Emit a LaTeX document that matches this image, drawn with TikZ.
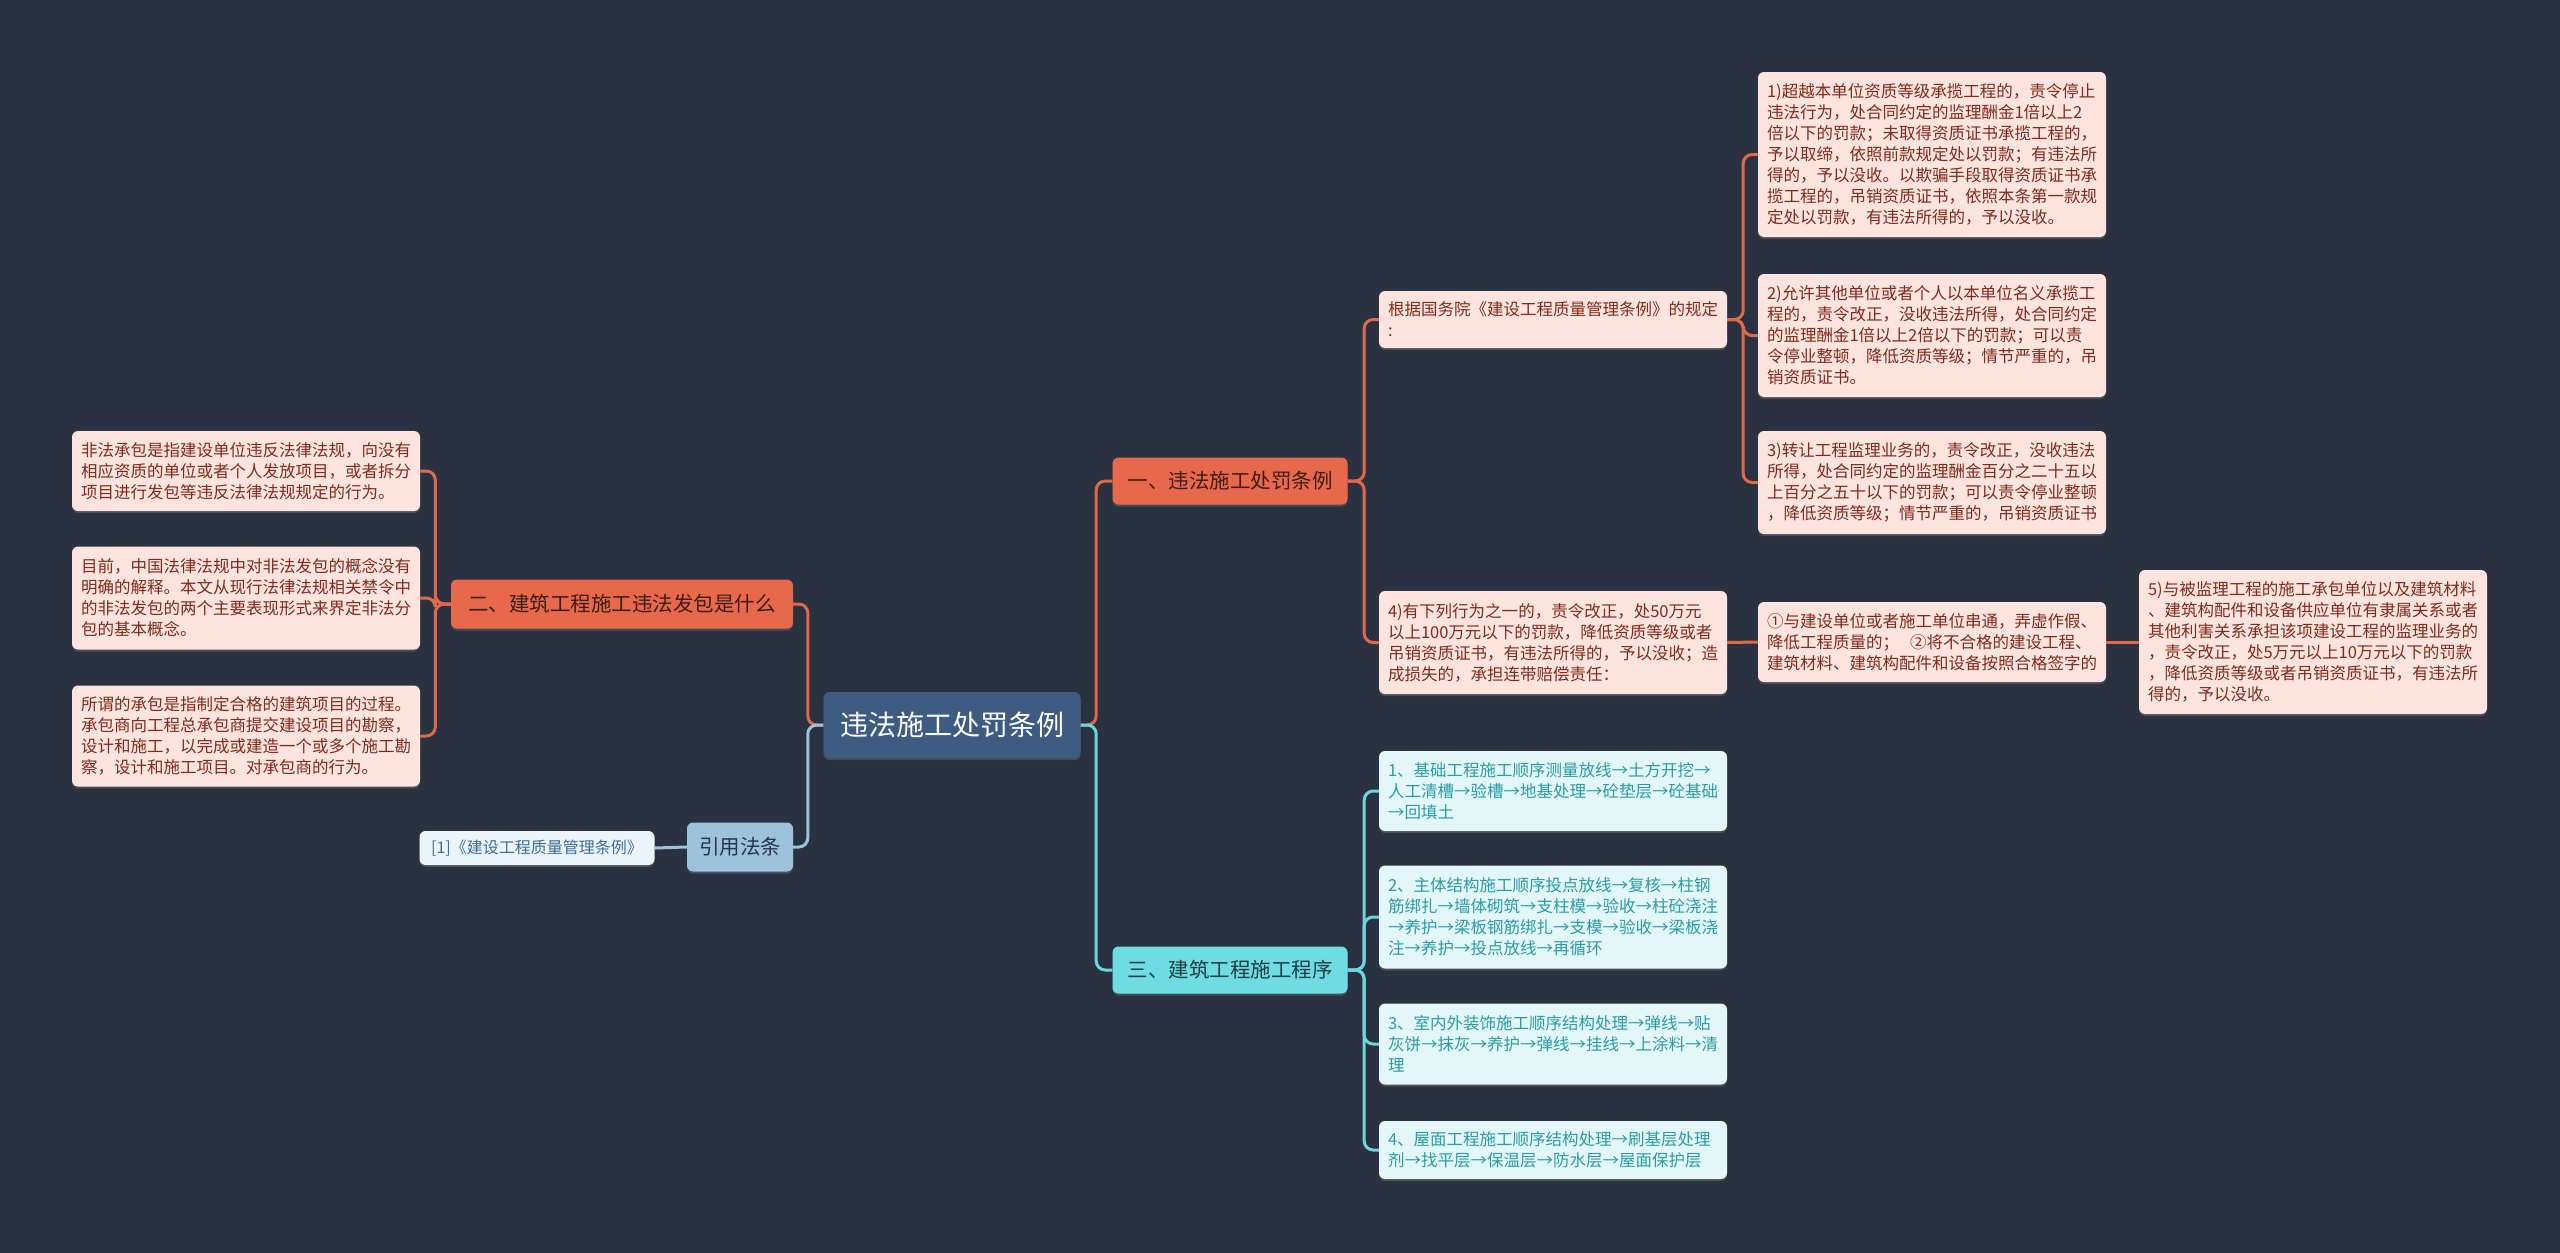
\documentclass[tikz,border=0pt]{standalone}
\usepackage{fontspec}
\setmainfont{Noto Sans CJK SC}
\usetikzlibrary{shadows}
\definecolor{bg}{HTML}{2A3140}
\definecolor{rootfill}{HTML}{3E5B82}
\definecolor{orgfill}{HTML}{E8684B}
\definecolor{orgtext}{HTML}{3A1E16}
\definecolor{orgline}{HTML}{E0694B}
\definecolor{leafofill}{HTML}{FDE4DE}
\definecolor{leafotext}{HTML}{7E2C1C}
\definecolor{cyanfill}{HTML}{6EDCE2}
\definecolor{cyantext}{HTML}{1D3E45}
\definecolor{cyanline}{HTML}{6CD6DE}
\definecolor{leafcfill}{HTML}{E4F7F8}
\definecolor{leafctext}{HTML}{2A9CA3}
\definecolor{bluefill}{HTML}{9DC2DB}
\definecolor{bluetext}{HTML}{25364A}
\definecolor{blueline}{HTML}{9DC2DB}
\definecolor{leafbfill}{HTML}{EBF4F9}
\definecolor{leafbtext}{HTML}{3E6E96}
\begin{document}
\begin{tikzpicture}[x=1pt,y=-1pt,
  box/.style={rounded corners=6pt, inner ysep=0pt, anchor=center,
    drop shadow={opacity=0.35, shadow xshift=0pt, shadow yshift=-2pt}},
  leafo/.style={box, fill=leafofill, text=leafotext, inner xsep=9pt, align=left,
    text width=330pt, font=\fontsize{16.5}{21}\selectfont},
  leafc/.style={box, fill=leafcfill, text=leafctext, inner xsep=9pt, align=left,
    text width=330pt, font=\fontsize{16.5}{21}\selectfont},
  leafb/.style={box, fill=leafbfill, text=leafbtext, inner xsep=0pt, align=center,
    font=\fontsize{16}{20}\selectfont},
  rootbox/.style={box, fill=rootfill, text=white, inner xsep=0pt,
    font=\fontsize{28}{32}\selectfont},
  branchO/.style={box, fill=orgfill, text=orgtext, inner xsep=0pt,
    font=\fontsize{20.5}{24}\selectfont},
  branchC/.style={box, fill=cyanfill, text=cyantext, inner xsep=0pt,
    font=\fontsize{20.5}{24}\selectfont},
  branchB/.style={box, fill=bluefill, text=bluetext, inner xsep=0pt,
    font=\fontsize{20.5}{24}\selectfont},
  conn/.style={line width=3pt, rounded corners=9pt},
  lineO/.style={conn, draw=orgline},
  lineC/.style={conn, draw=cyanline},
  lineB/.style={conn, draw=blueline}
]
\fill[bg] (0,0) rectangle (2560,1253);
\useasboundingbox (0,0) rectangle (2560,1253);

% root and branches
\node[rootbox, minimum width=257pt, minimum height=66pt] (root) at (952,725) {违法施工处罚条例};
\node[branchO, minimum width=235pt, minimum height=47pt] (b1) at (1230,481) {一、违法施工处罚条例};
\node[branchC, minimum width=235pt, minimum height=47pt] (b3) at (1230,970) {三、建筑工程施工程序};
\node[branchO, minimum width=342pt, minimum height=49pt] (b2) at (622,604) {二、建筑工程施工违法发包是什么};
\node[branchB, minimum width=106pt, minimum height=49pt] (b4) at (740,847) {引用法条};
\node[leafb, minimum width=235pt, minimum height=34pt] (r1) at (537,848) {[1]《建设工程质量管理条例》};

% branch 1 children
\node[leafo, minimum height=57pt] (g) at (1553,319.5) {根据国务院《建设工程质量管理条例》的规定\\:};
\node[leafo, minimum height=103pt] (p4) at (1553,642.5) {4)有下列行为之一的，责令改正，处50万元\\以上100万元以下的罚款，降低资质等级或者\\吊销资质证书，有违法所得的，予以没收；造\\成损失的，承担连带赔偿责任：};
\node[leafo, minimum height=165pt] (p1) at (1932,154.5) {1)超越本单位资质等级承揽工程的，责令停止\\违法行为，处合同约定的监理酬金1倍以上2\\倍以下的罚款；未取得资质证书承揽工程的，\\予以取缔，依照前款规定处以罚款；有违法所\\得的，予以没收。以欺骗手段取得资质证书承\\揽工程的，吊销资质证书，依照本条第一款规\\定处以罚款，有违法所得的，予以没收。};
\node[leafo, minimum height=123pt] (p2) at (1932,335.5) {2)允许其他单位或者个人以本单位名义承揽工\\程的，责令改正，没收违法所得，处合同约定\\的监理酬金1倍以上2倍以下的罚款；可以责\\令停业整顿，降低资质等级；情节严重的，吊\\销资质证书。};
\node[leafo, minimum height=103pt] (p3) at (1932,482.5) {3)转让工程监理业务的，责令改正，没收违法\\所得，处合同约定的监理酬金百分之二十五以\\上百分之五十以下的罚款；可以责令停业整顿\\，降低资质等级；情节严重的，吊销资质证书};
\node[leafo, minimum height=80pt] (q1) at (1932,642) {①与建设单位或者施工单位串通，弄虚作假、\\降低工程质量的；\ \ ②将不合格的建设工程、\\建筑材料、建筑构配件和设备按照合格签字的};
\node[leafo, minimum height=144pt] (p5) at (2313,642) {5)与被监理工程的施工承包单位以及建筑材料\\、建筑构配件和设备供应单位有隶属关系或者\\其他利害关系承担该项建设工程的监理业务的\\，责令改正，处5万元以上10万元以下的罚款\\，降低资质等级或者吊销资质证书，有违法所\\得的，予以没收。};

% branch 3 children
\node[leafc, minimum height=80pt] (c1) at (1553,791) {1、基础工程施工顺序测量放线→土方开挖→\\人工清槽→验槽→地基处理→砼垫层→砼基础\\→回填土};
\node[leafc, minimum height=103pt] (c2) at (1553,917) {2、主体结构施工顺序投点放线→复核→柱钢\\筋绑扎→墙体砌筑→支柱模→验收→柱砼浇注\\→养护→梁板钢筋绑扎→支模→验收→梁板浇\\注→养护→投点放线→再循环};
\node[leafc, minimum height=81pt] (c3) at (1553,1044) {3、室内外装饰施工顺序结构处理→弹线→贴\\灰饼→抹灰→养护→弹线→挂线→上涂料→清\\理};
\node[leafc, minimum height=58pt] (c4) at (1553,1150) {4、屋面工程施工顺序结构处理→刷基层处理\\剂→找平层→保温层→防水层→屋面保护层};

% branch 2 children
\node[leafo, minimum height=80pt] (l1) at (246,471) {非法承包是指建设单位违反法律法规，向没有\\相应资质的单位或者个人发放项目，或者拆分\\项目进行发包等违反法律法规规定的行为。};
\node[leafo, minimum height=103pt] (l2) at (246,598) {目前，中国法律法规中对非法发包的概念没有\\明确的解释。本文从现行法律法规相关禁令中\\的非法发包的两个主要表现形式来界定非法分\\包的基本概念。};
\node[leafo, minimum height=101pt] (l3) at (246,736) {所谓的承包是指制定合格的建筑项目的过程。\\承包商向工程总承包商提交建设项目的勘察，\\设计和施工，以完成或建造一个或多个施工勘\\察，设计和施工项目。对承包商的行为。};

% connectors
\begin{scope}[on background layer/.style={}]
\end{scope}
\draw[lineO] (root.east) -- ++(15.5,0) |- (b1.west);
\draw[lineC] (root.east) -- ++(15.5,0) |- (b3.west);
\draw[lineO] (root.west) -- ++(-15.5,0) |- (b2.east);
\draw[lineB] (root.west) -- ++(-15.5,0) |- (b4.east);
\draw[lineB] (b4.west) -- (r1.east);

\draw[lineO] (b1.east) -- ++(16.5,0) |- (g.west);
\draw[lineO] (b1.east) -- ++(16.5,0) |- (p4.west);
\draw[lineO] (g.east) -- ++(16,0) |- (p1.west);
\draw[lineO] (g.east) -- ++(16,0) |- (p2.west);
\draw[lineO] (g.east) -- ++(16,0) |- (p3.west);
\draw[lineO] (p4.east) -- (q1.west);
\draw[lineO] (q1.east) -- (p5.west);

\draw[lineC] (b3.east) -- ++(16.5,0) |- (c1.west);
\draw[lineC] (b3.east) -- ++(16.5,0) |- (c2.west);
\draw[lineC] (b3.east) -- ++(16.5,0) |- (c3.west);
\draw[lineC] (b3.east) -- ++(16.5,0) |- (c4.west);

\draw[lineO] (b2.west) -- ++(-15.5,0) |- (l1.east);
\draw[lineO] (b2.west) -- ++(-15.5,0) |- (l2.east);
\draw[lineO] (b2.west) -- ++(-15.5,0) |- (l3.east);
\end{tikzpicture}
\end{document}
